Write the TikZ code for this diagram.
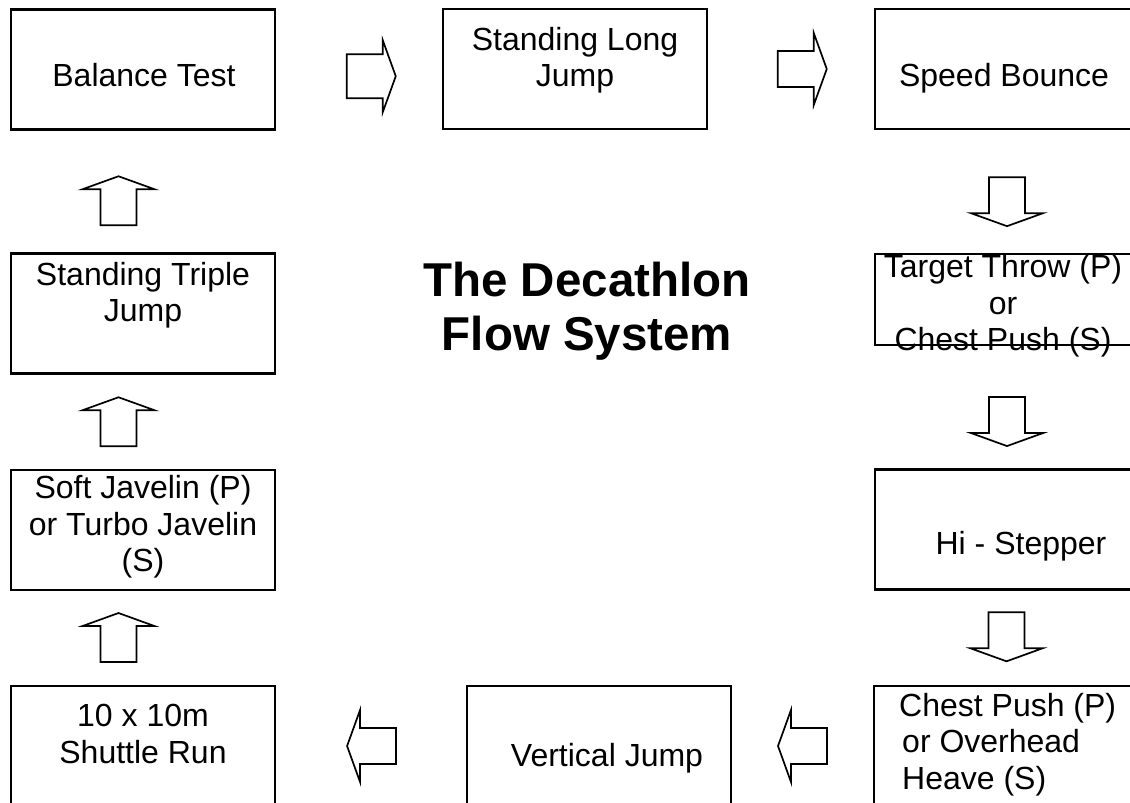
\documentclass[tikz,border=0pt]{standalone}
\usepackage{fontspec}
\setmainfont{Liberation Sans}
\usetikzlibrary{calc}

\tikzset{
	box/.style={draw, line width=2.3pt, minimum width=264pt, minimum height=120pt, inner sep=0},
	txt/.style={align=center, inner sep=0, font=\fontsize{32}{36.5}\selectfont},
	ttl/.style={align=center, inner sep=0, font=\fontsize{47.5}{54}\selectfont\bfseries},
	pics/barrow/.style={code={
		\draw[line width=1.7pt] (-24.5,-#1) -- (11.5,-#1) -- (11.5,-36) -- (24.5,0)
			-- (11.5,36) -- (11.5,#1) -- (-24.5,#1) -- cycle;
	}}
}

\begin{document}
\begin{tikzpicture}[x=1pt, y=-1pt]
\useasboundingbox (0,0) rectangle (1130,803);
\clip (0,0) rectangle (1130,803);

\node[box] (bal) at (143,69.5) {};
\node[box] (slj) at (575,69) {};
\node[box] (spb) at (1007,69) {};
\node[box, minimum height=91pt] (ttp) at (1007,299.5) {};
\node[box] (hst) at (1007,529.5) {};
\node[box] (cpp) at (1006,746) {};
\node[box] (vj) at (599,746) {};
\node[box] (shr) at (143,746) {};
\node[box] (sjv) at (143,530) {};
\node[box] (stj) at (143,313.5) {};

\node[txt] (balT) at ($(bal)+(1,6)$) {Balance Test};
\node[txt] (sljT) at ($(slj)+(0,-9)$) {Standing Long\\Jump};
\node[txt] (spbT) at ($(spb)+(-3,9)$) {Speed Bounce};
\node[txt] (ttpT) at ($(ttp)+(-4,6.5)$) {Target Throw (P)\\or\\Chest Push (S)};
\node[txt] (hstT) at ($(hst)+(14,17)$) {Hi - Stepper};
\node[txt, align=left, anchor=west] (cppT) at (899,744.5) {Chest Push (P)\\\hspace{3pt}or Overhead\\\hspace{3pt}Heave (S)};
\node[txt] (vjT) at ($(vj)+(8,12)$) {Vertical Jump};
\node[txt] (shrT) at ($(shr)+(0,-12)$) {10 x 10m\\Shuttle Run};
\node[txt] (sjvT) at ($(sjv)+(0,-3)$) {Soft Javelin (P)\\or Turbo Javelin\\(S)};
\node[txt] (stjT) at ($(stj)+(0,-18.5)$) {Standing Triple\\Jump};

\node[ttl] (title) at (587,311) {The Decathlon\\Flow System};

\pic at ($(bal.east)!0.574!(slj.west)+(0,7)$) {barrow=22};
\pic at ($(slj.east)!0.568!(spb.west)$) {barrow=18};
\pic[rotate=-90] at ($(spb.south)!0.583!(ttp.north)$) {barrow=18};
\pic[rotate=-90] at ($(ttp.south)!0.617!(hst.north)$) {barrow=18};
\pic[rotate=-90] at ($(hst.south)!0.49!(cpp.north)$) {barrow=18};
\pic[rotate=180] at ($(cpp.west)!0.5!(vj.east)$) {barrow=18};
\pic[rotate=180] at ($(vj.west)!0.497!(shr.east)$) {barrow=18};
\pic[rotate=90] at ($(shr.north)!0.505!(sjv.south)+(-24.5,0)$) {barrow=18};
\pic[rotate=90] at ($(sjv.north)!0.5!(stj.south)+(-24.5,0)$) {barrow=18};
\pic[rotate=90] at ($(stj.north)!0.424!(bal.south)+(-24.5,0)$) {barrow=18};
\end{tikzpicture}
\end{document}
